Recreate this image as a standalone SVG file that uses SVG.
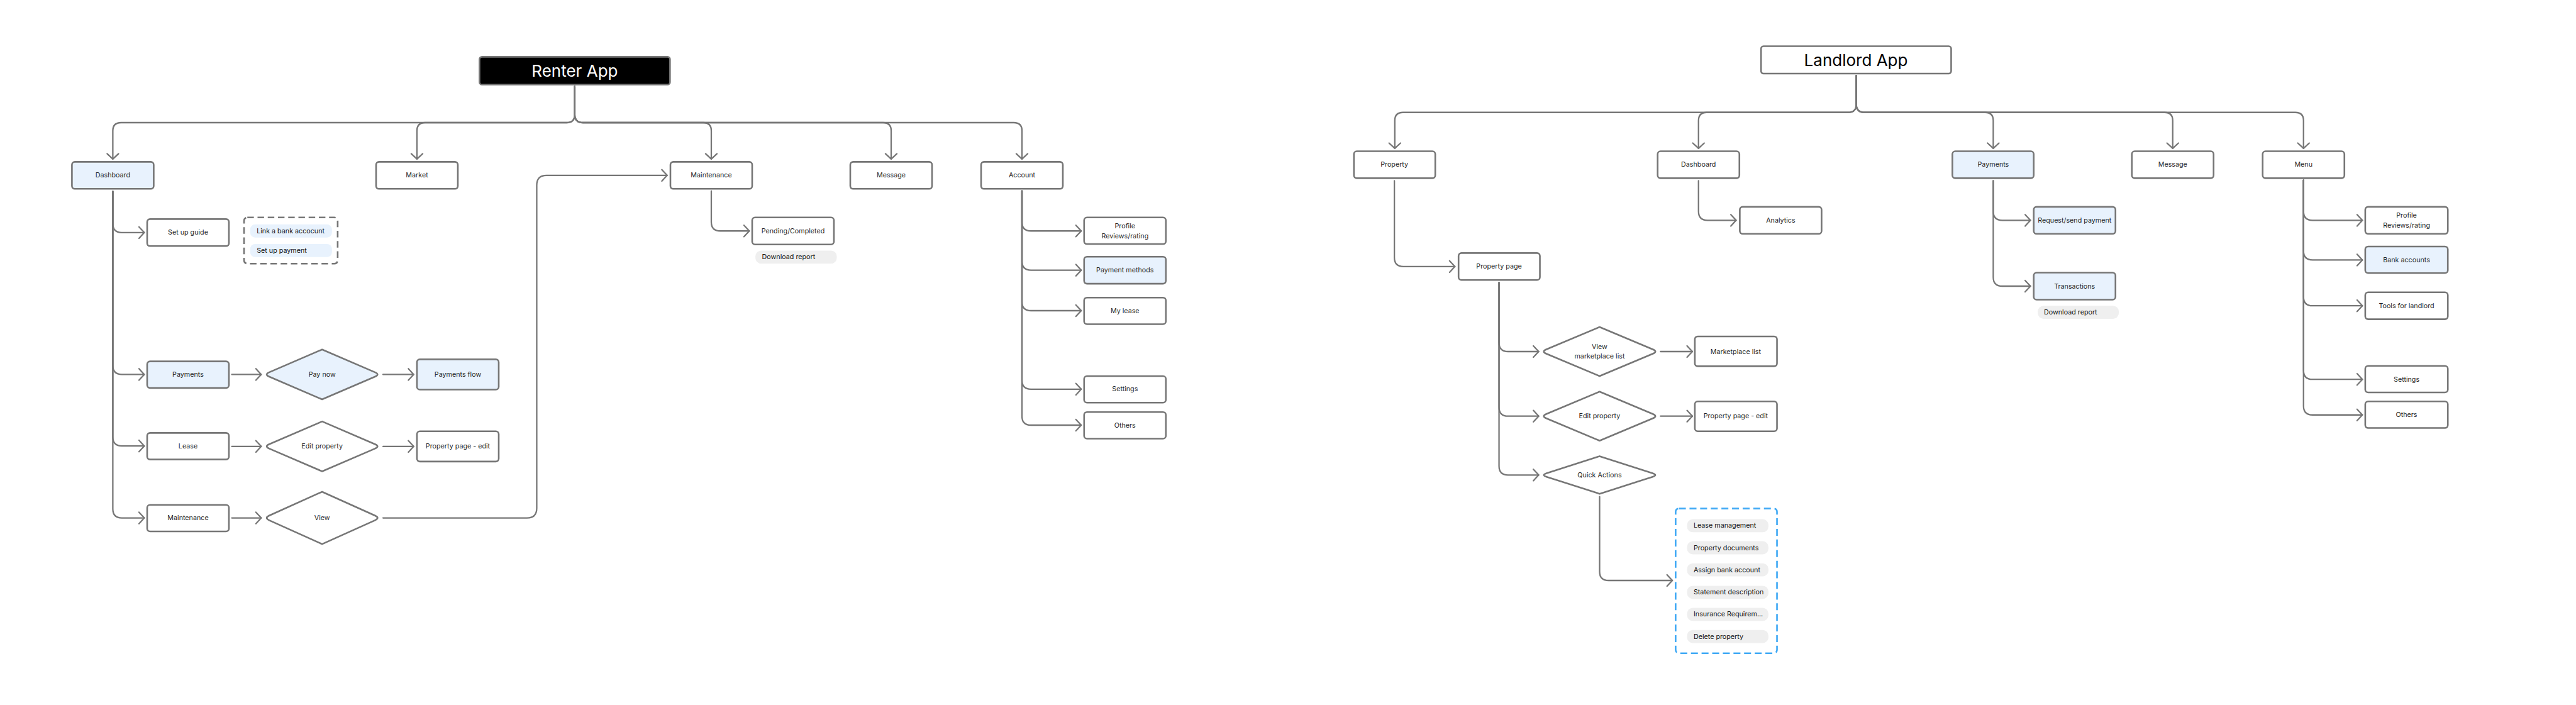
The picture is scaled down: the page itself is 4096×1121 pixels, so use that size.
<svg xmlns="http://www.w3.org/2000/svg" width="4096" height="1121" viewBox="0 0 4096 1121">
<style>
.box{fill:#fff;stroke:#767676;stroke-width:4;stroke-linejoin:round}
.blue{fill:#E8F2FD}
.pill{fill:#EFEFEF;stroke:none}
.bpill{fill:#E8F2FD;stroke:none}
.dash{fill:none;stroke:#767676;stroke-width:4;stroke-dasharray:16 9}
.bdash{fill:none;stroke:#3FA9F5;stroke-width:4;stroke-dasharray:17 9}
.lbl{font-family:Inter,"Noto Sans","Liberation Sans",sans-serif;font-size:16.5px;fill:#1e1e1e;text-anchor:middle;dominant-baseline:central}
.pt{text-anchor:start;fill:#111}
.title{font-size:40px}
.conn{fill:none;stroke:#767676;stroke-width:3.5;stroke-linecap:round;stroke-linejoin:round;marker-end:url(#arr)}
</style>
<defs>
<marker id="arr" markerUnits="userSpaceOnUse" markerWidth="40" markerHeight="40" viewBox="-20 -20 40 40" refX="0" refY="0" orient="auto" overflow="visible">
<path d="M-13 -14 L0 0 L-13 14" fill="none" stroke="#767676" stroke-width="3.5" stroke-linecap="round" stroke-linejoin="round"/>
</marker>
</defs>
<rect width="4096" height="1121" fill="#fff"/>
<g transform="scale(0.65)">
<g id="connectors">
<path class="conn" d="M1406 211 V280 Q1406 300 1386 300 H296 Q276 300 276 320 V389"/>
<path class="conn" d="M1406 211 V280 Q1406 300 1386 300 H1040 Q1020 300 1020 320 V389"/>
<path class="conn" d="M1406 211 V280 Q1406 300 1426 300 H1720 Q1740 300 1740 320 V389"/>
<path class="conn" d="M1406 211 V280 Q1406 300 1426 300 H2160 Q2180 300 2180 320 V389"/>
<path class="conn" d="M1406 211 V280 Q1406 300 1426 300 H2480 Q2500 300 2500 320 V389"/>
<path class="conn" d="M276 468 V547 Q276 569 298 569 H353"/>
<path class="conn" d="M276 468 V894 Q276 916 298 916 H353"/>
<path class="conn" d="M276 468 V1069 Q276 1091 298 1091 H353"/>
<path class="conn" d="M276 468 V1245 Q276 1267 298 1267 H353"/>
<path class="conn" d="M567 916 H639"/>
<path class="conn" d="M937 916 H1012"/>
<path class="conn" d="M567 1092 H639"/>
<path class="conn" d="M937 1092 H1012"/>
<path class="conn" d="M567 1267 H639"/>
<path class="conn" d="M937 1267 H1289 Q1313 1267 1313 1243 V453 Q1313 429 1337 429 H1632"/>
<path class="conn" d="M1740 467 V543 Q1740 565 1762 565 H1833"/>
<path class="conn" d="M2500 467 V543 Q2500 565 2522 565 H2645"/>
<path class="conn" d="M2500 467 V639 Q2500 661 2522 661 H2645"/>
<path class="conn" d="M2500 467 V738 Q2500 760 2522 760 H2645"/>
<path class="conn" d="M2500 467 V930 Q2500 952 2522 952 H2645"/>
<path class="conn" d="M2500 467 V1018 Q2500 1040 2522 1040 H2645"/>
<path class="conn" d="M4541 185 V255 Q4541 275 4521 275 H3432 Q3412 275 3412 295 V363"/>
<path class="conn" d="M4541 185 V255 Q4541 275 4521 275 H4175 Q4155 275 4155 295 V363"/>
<path class="conn" d="M4541 185 V255 Q4541 275 4561 275 H4856 Q4876 275 4876 295 V363"/>
<path class="conn" d="M4541 185 V255 Q4541 275 4561 275 H5295 Q5315 275 5315 295 V363"/>
<path class="conn" d="M4541 185 V255 Q4541 275 4561 275 H5615 Q5635 275 5635 295 V363"/>
<path class="conn" d="M3411 442 V630 Q3411 652 3433 652 H3559"/>
<path class="conn" d="M3667 691 V838 Q3667 860 3689 860 H3764"/>
<path class="conn" d="M3667 691 V996 Q3667 1018 3689 1018 H3764"/>
<path class="conn" d="M3667 691 V1140 Q3667 1162 3689 1162 H3764"/>
<path class="conn" d="M4062 860 H4140"/>
<path class="conn" d="M4062 1018 H4140"/>
<path class="conn" d="M3913 1215 V1398 Q3913 1420 3935 1420 H4091"/>
<path class="conn" d="M4155 442 V517 Q4155 539 4177 539 H4247"/>
<path class="conn" d="M4876 442 V517 Q4876 539 4898 539 H4967"/>
<path class="conn" d="M4876 442 V678 Q4876 700 4898 700 H4967"/>
<path class="conn" d="M5635 441 V517 Q5635 539 5657 539 H5779"/>
<path class="conn" d="M5635 441 V614 Q5635 636 5657 636 H5779"/>
<path class="conn" d="M5635 441 V726 Q5635 748 5657 748 H5779"/>
<path class="conn" d="M5635 441 V906 Q5635 928 5657 928 H5779"/>
<path class="conn" d="M5635 441 V993 Q5635 1015 5657 1015 H5779"/>
</g>

<g id="renter-app"><rect x="1173" y="139" width="466" height="68" rx="6" fill="#000" stroke="#767676" stroke-width="4"/><text class="lbl title" x="1406" y="173" style="fill:#fff">Renter App</text></g>
<g id="r-dashboard"><rect class="box blue" x="176" y="396" width="200" height="66" rx="7"/><text class="lbl" x="276" y="429">Dashboard</text></g>
<g id="r-market"><rect class="box" x="920" y="396" width="200" height="66" rx="7"/><text class="lbl" x="1020" y="429">Market</text></g>
<g id="r-maintenance"><rect class="box" x="1640" y="396" width="200" height="66" rx="7"/><text class="lbl" x="1740" y="429">Maintenance</text></g>
<g id="r-message"><rect class="box" x="2080" y="396" width="200" height="66" rx="7"/><text class="lbl" x="2180" y="429">Message</text></g>
<g id="r-account"><rect class="box" x="2400" y="396" width="200" height="66" rx="7"/><text class="lbl" x="2500" y="429">Account</text></g>

<g id="r-setup-guide"><rect class="box" x="360" y="536" width="200" height="66" rx="7"/><text class="lbl" x="460" y="569">Set up guide</text></g>
<g id="r-setup-options"><rect class="dash" x="597" y="532" width="229" height="113" rx="8"/>
<rect class="bpill" x="612" y="549" width="200" height="32" rx="12"/><text class="lbl pt" x="628" y="565">Link a bank accocunt</text>
<rect class="bpill" x="612" y="597" width="200" height="32" rx="12"/><text class="lbl pt" x="628" y="613">Set up payment</text></g>

<g id="r-payments"><rect class="box blue" x="360" y="884" width="200" height="65" rx="7"/><text class="lbl" x="460" y="916">Payments</text></g>
<g id="r-pay-now"><path class="box blue" d="M788 855 L917.1 910.5 Q930 916 917.1 921.5 L788 977 L658.9 921.5 Q646 916 658.9 910.5 Z"/><text class="lbl" x="788" y="916">Pay now</text></g>
<g id="r-payments-flow"><rect class="box blue" x="1020" y="879" width="200" height="74" rx="7"/><text class="lbl" x="1120" y="916">Payments flow</text></g>

<g id="r-lease"><rect class="box" x="360" y="1059" width="200" height="65" rx="7"/><text class="lbl" x="460" y="1091">Lease</text></g>
<g id="r-edit-property"><path class="box" d="M788 1031 L917.1 1086.5 Q930 1092 917.1 1097.5 L788 1153 L658.9 1097.5 Q646 1092 658.9 1086.5 Z"/><text class="lbl" x="788" y="1092">Edit property</text></g>
<g id="r-property-page-edit"><rect class="box" x="1020" y="1055" width="200" height="74" rx="7"/><text class="lbl" x="1120" y="1092">Property page - edit</text></g>

<g id="r-maintenance-item"><rect class="box" x="360" y="1235" width="200" height="65" rx="7"/><text class="lbl" x="460" y="1267">Maintenance</text></g>
<g id="r-view"><path class="box" d="M788 1203 L917.2 1261.2 Q930 1267 917.2 1272.8 L788 1331 L658.8 1272.8 Q646 1267 658.8 1261.2 Z"/><text class="lbl" x="788" y="1267">View</text></g>

<g id="r-pending"><rect class="box" x="1840" y="532" width="200" height="66" rx="7"/><text class="lbl" x="1940" y="565">Pending/Completed</text></g>
<g id="r-download"><rect class="pill" x="1848" y="613" width="199" height="32" rx="14"/><text class="lbl pt" x="1864" y="629">Download report</text></g>

<g id="r-profile"><rect class="box" x="2652" y="532" width="200" height="65" rx="7"/><text class="lbl" x="2752" y="553">Profile</text><text class="lbl" x="2752" y="577">Reviews/rating</text></g>
<g id="r-payment-methods"><rect class="box blue" x="2652" y="628" width="200" height="66" rx="7"/><text class="lbl" x="2752" y="661">Payment methods</text></g>
<g id="r-my-lease"><rect class="box" x="2652" y="728" width="200" height="65" rx="7"/><text class="lbl" x="2752" y="760">My lease</text></g>
<g id="r-settings"><rect class="box" x="2652" y="920" width="200" height="65" rx="7"/><text class="lbl" x="2752" y="952">Settings</text></g>
<g id="r-others"><rect class="box" x="2652" y="1008" width="200" height="65" rx="7"/><text class="lbl" x="2752" y="1040">Others</text></g>

<g id="landlord-app"><rect class="box" x="4308" y="113" width="465" height="67" rx="6"/><text class="lbl title" x="4540" y="147" style="fill:#000">Landlord App</text></g>
<g id="l-property"><rect class="box" x="3312" y="370" width="199" height="66" rx="7"/><text class="lbl" x="3411" y="403">Property</text></g>
<g id="l-dashboard"><rect class="box" x="4055" y="370" width="200" height="66" rx="7"/><text class="lbl" x="4155" y="403">Dashboard</text></g>
<g id="l-payments"><rect class="box blue" x="4776" y="370" width="199" height="66" rx="7"/><text class="lbl" x="4876" y="403">Payments</text></g>
<g id="l-message"><rect class="box" x="5215" y="370" width="200" height="66" rx="7"/><text class="lbl" x="5315" y="403">Message</text></g>
<g id="l-menu"><rect class="box" x="5535" y="370" width="200" height="66" rx="7"/><text class="lbl" x="5635" y="403">Menu</text></g>

<g id="l-property-page"><rect class="box" x="3568" y="619" width="199" height="66" rx="7"/><text class="lbl" x="3667" y="652">Property page</text></g>
<g id="l-view-marketplace"><path class="box" d="M3913 800 L4043.1 854.6 Q4056 860 4043.1 865.4 L3913 920 L3782.9 865.4 Q3770 860 3782.9 854.6 Z"/><text class="lbl" x="3913" y="848">View</text><text class="lbl" x="3913" y="872">marketplace list</text></g>
<g id="l-marketplace-list"><rect class="box" x="4146" y="823" width="201" height="73" rx="7"/><text class="lbl" x="4246" y="860">Marketplace list</text></g>
<g id="l-edit-property"><path class="box" d="M3913 958 L4043.1 1012.6 Q4056 1018 4043.1 1023.4 L3913 1078 L3782.9 1023.4 Q3770 1018 3782.9 1012.6 Z"/><text class="lbl" x="3913" y="1018">Edit property</text></g>
<g id="l-property-page-edit"><rect class="box" x="4146" y="982" width="201" height="73" rx="7"/><text class="lbl" x="4246" y="1018">Property page - edit</text></g>
<g id="l-quick-actions"><path class="box" d="M3913 1116 L4042.7 1157.6 Q4056 1162 4042.7 1166.4 L3913 1208 L3783.3 1166.4 Q3770 1162 3783.3 1157.6 Z"/><text class="lbl" x="3913" y="1162">Quick Actions</text></g>
<g id="l-quick-actions-list"><rect class="bdash" x="4099" y="1244" width="248" height="354" rx="8"/>
<rect class="pill" x="4127" y="1270" width="199" height="32" rx="14"/><text class="lbl pt" x="4143" y="1286">Lease management</text>
<rect class="pill" x="4127" y="1324" width="199" height="32" rx="14"/><text class="lbl pt" x="4143" y="1340">Property documents</text>
<rect class="pill" x="4127" y="1378" width="199" height="32" rx="14"/><text class="lbl pt" x="4143" y="1394">Assign bank account</text>
<rect class="pill" x="4127" y="1433" width="199" height="32" rx="14"/><text class="lbl pt" x="4143" y="1449">Statement description</text>
<rect class="pill" x="4127" y="1487" width="199" height="32" rx="14"/><text class="lbl pt" x="4143" y="1503">Insurance Requirem...</text>
<rect class="pill" x="4127" y="1541" width="199" height="32" rx="14"/><text class="lbl pt" x="4143" y="1557">Delete property</text></g>

<g id="l-analytics"><rect class="box" x="4256" y="506" width="200" height="66" rx="7"/><text class="lbl" x="4356" y="539">Analytics</text></g>
<g id="l-request-send"><rect class="box blue" x="4975" y="506" width="200" height="66" rx="7"/><text class="lbl" x="5075" y="539">Request/send payment</text></g>
<g id="l-transactions"><rect class="box blue" x="4975" y="667" width="200" height="66" rx="7"/><text class="lbl" x="5075" y="700">Transactions</text></g>
<g id="l-download"><rect class="pill" x="4985" y="748" width="198" height="32" rx="14"/><text class="lbl pt" x="5000" y="764">Download report</text></g>

<g id="l-profile"><rect class="box" x="5786" y="506" width="202" height="66" rx="7"/><text class="lbl" x="5887" y="527">Profile</text><text class="lbl" x="5887" y="551">Reviews/rating</text></g>
<g id="l-bank-accounts"><rect class="box blue" x="5786" y="603" width="202" height="65" rx="7"/><text class="lbl" x="5887" y="636">Bank accounts</text></g>
<g id="l-tools"><rect class="box" x="5786" y="715" width="202" height="66" rx="7"/><text class="lbl" x="5887" y="748">Tools for landlord</text></g>
<g id="l-settings"><rect class="box" x="5786" y="895" width="202" height="65" rx="7"/><text class="lbl" x="5887" y="928">Settings</text></g>
<g id="l-others"><rect class="box" x="5786" y="982" width="202" height="65" rx="7"/><text class="lbl" x="5887" y="1015">Others</text></g>
</g>
</svg>
